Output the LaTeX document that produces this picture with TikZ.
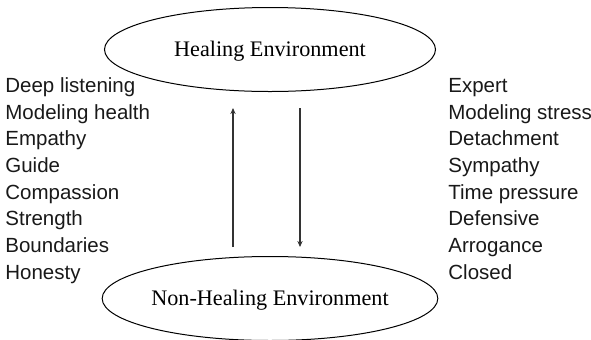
\documentclass[tikz,border=0pt]{standalone}
\usepackage{fontspec}
\setmainfont{Liberation Serif}
\setsansfont{Liberation Sans}
\usetikzlibrary{arrows.meta, shapes.geometric}

\tikzset{
  envnode/.style={ellipse, draw, line width=0.5pt, minimum width=165.5pt, minimum height=42pt,
    inner sep=0pt, text height=7.4pt, text depth=0pt, font=\fontsize{11.1}{13}\selectfont},
  trait/.style={anchor=west, inner sep=0pt, text height=7.4pt, text depth=0pt,
    font=\sffamily\fontsize{10.25}{12}\selectfont, text=black!90},
  flow/.style={line width=0.6pt, draw=black!80, -{Stealth[length=3pt,width=2.6pt]}}
}

\begin{document}
\begin{tikzpicture}[x=0.5pt,y=-0.5pt]
  \useasboundingbox (0,0) rectangle (591,339);

  \node[envnode] (heal) at (270,49.5) {Healing Environment};
  \node[envnode] (nonheal) at (270,298.5) {Non-Healing Environment};

  % healing traits
  \node[trait] (h1) at (5,85)  {Deep listening};
  \node[trait] (h2) at (5,112) {Modeling health};
  \node[trait] (h3) at (5,138) {Empathy};
  \node[trait] (h4) at (5,165) {Guide};
  \node[trait] (h5) at (5,192) {Compassion};
  \node[trait] (h6) at (5,218) {Strength};
  \node[trait] (h7) at (5,245) {Boundaries};
  \node[trait] (h8) at (5,272) {Honesty};

  % non-healing traits
  \node[trait] (n1) at (448,85)  {Expert};
  \node[trait] (n2) at (448,112) {Modeling stress};
  \node[trait] (n3) at (448,138) {Detachment};
  \node[trait] (n4) at (448,165) {Sympathy};
  \node[trait] (n5) at (448,192) {Time pressure};
  \node[trait] (n6) at (448,218) {Defensive};
  \node[trait] (n7) at (448,245) {Arrogance};
  \node[trait] (n8) at (448,272) {Closed};

  % arrows between the two
  \coordinate (upS) at (233,247);
  \coordinate (upE) at (233,108);
  \coordinate (dnS) at (300,108);
  \coordinate (dnE) at (300,247);
  \draw[flow] (upS) -- (upE);
  \draw[flow] (dnS) -- (dnE);

\end{tikzpicture}
\end{document}
